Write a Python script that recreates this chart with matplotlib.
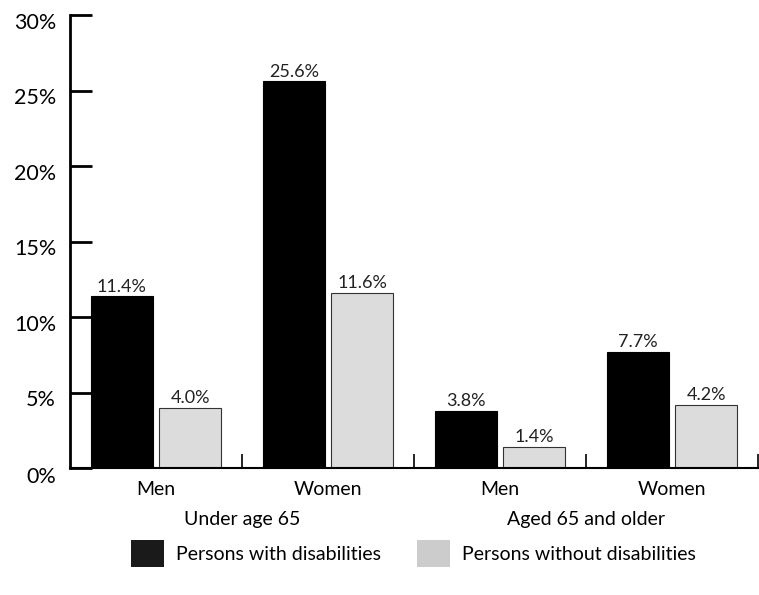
import matplotlib.pyplot as plt
import matplotlib.transforms as mtransforms
from matplotlib.patches import Patch
import numpy as np

plt.rcParams['font.family'] = ['Lato', 'DejaVu Sans']

categories = ['Men', 'Women', 'Men', 'Women']
groups = ['Under age 65', 'Aged 65 and older']
with_dis = [11.4, 25.6, 3.8, 7.7]
without_dis = [4.0, 11.6, 1.4, 4.2]
yticks = [0, 5, 10, 15, 20, 25, 30]
series_names = ['Persons with disabilities', 'Persons without disabilities']

fig = plt.figure(figsize=(7.59, 5.95), dpi=100)
ax = fig.add_axes([0.0922, 0.2134, 0.9065, 0.7613])

x = np.arange(len(categories))
w = 0.36
off = 0.198
b1 = ax.bar(x - off, with_dis, w, color='black', edgecolor='black', linewidth=0.8)
b2 = ax.bar(x + off, without_dis, w, color='#dcdcdc', edgecolor='#333333', linewidth=0.8)

for bars in (b1, b2):
    for r in bars:
        ax.annotate(f'{r.get_height():.1f}%', (r.get_x() + r.get_width() / 2, r.get_height()),
                    xytext=(0, 1), textcoords='offset points', ha='center', va='bottom',
                    fontsize=13, color='#222222')

ax.set_xlim(-0.5, 3.5)
ax.set_ylim(0, 30)
ax.spines['top'].set_visible(False)
ax.spines['right'].set_visible(False)
ax.spines['left'].set_linewidth(2)
ax.spines['bottom'].set_linewidth(1.5)

ax.set_yticks(yticks)
ax.set_yticklabels([f'{v}%' for v in yticks], fontsize=15.5)
ax.tick_params(axis='y', direction='in', length=16, width=2, pad=10)
# labels sit a bit below their ticks in the original
for i, lab in enumerate(ax.get_yticklabels()):
    dy = -5 / 72 if i == 0 else -4 / 72
    lab.set_transform(lab.get_transform() + mtransforms.ScaledTranslation(0, dy, fig.dpi_scale_trans))

ax.set_xticks(x)
ax.set_xticklabels(categories, fontsize=14)
ax.tick_params(axis='x', which='major', length=0, pad=9)
ax.set_xticks([0.5, 1.5, 2.5, 3.5], minor=True)
ax.tick_params(axis='x', which='minor', direction='in', length=10, width=1.2)

for gi, g in enumerate(groups):
    ax.text(0.5 + 2 * gi, -0.113, g, transform=ax.get_xaxis_transform(),
            ha='center', va='center', fontsize=14)

handles = [Patch(facecolor='#1a1a1a', edgecolor='none'), Patch(facecolor='#cccccc', edgecolor='none')]
fig.legend(handles, series_names, loc='center', bbox_to_anchor=(0.545, 0.07), ncol=2,
           frameon=False, fontsize=14, handlelength=1.7, handleheight=1.75,
           handletextpad=0.62, columnspacing=1.85)

fig.savefig('out.png', dpi=100)
